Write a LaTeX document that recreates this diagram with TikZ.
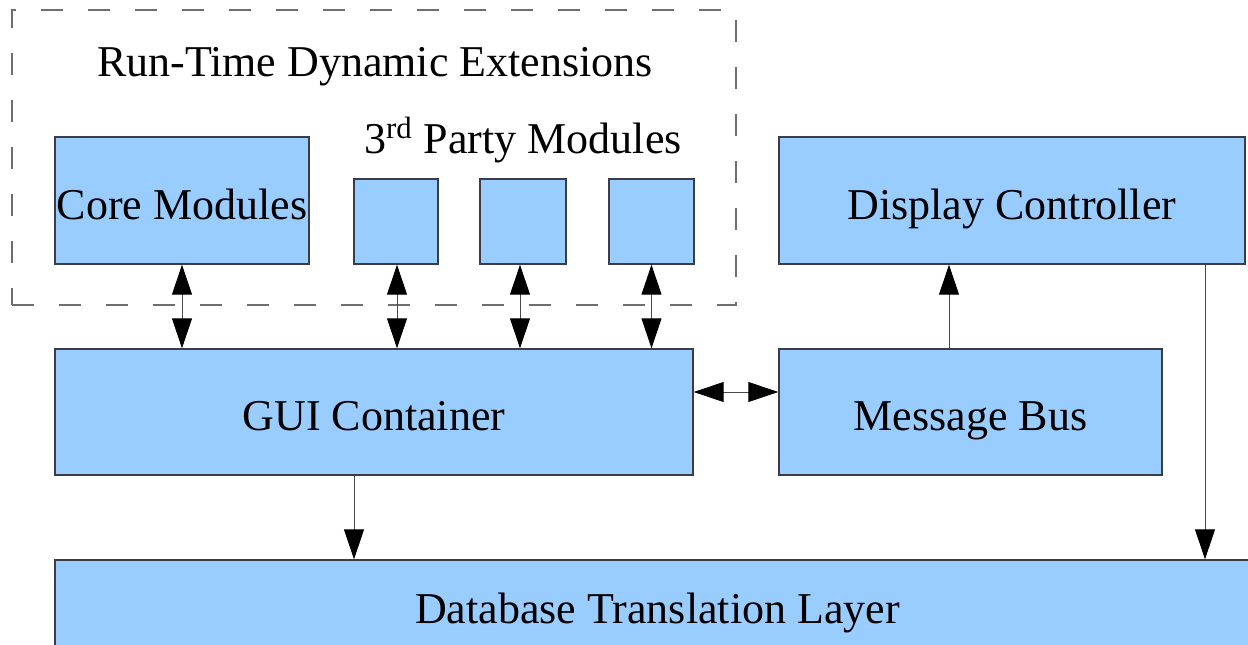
\documentclass[tikz,border=0pt]{standalone}
\usepackage{fontspec}
\setmainfont{Liberation Serif}
\usetikzlibrary{arrows.meta,calc}
\definecolor{boxfill}{HTML}{99CCFF}
\definecolor{boxline}{HTML}{3C3C46}
\definecolor{wire}{HTML}{4A4A4A}
\definecolor{dashline}{HTML}{6E6E6E}
\newcommand{\boxfont}{\fontsize{22}{26}\selectfont}
\tikzset{
 every node/.append style={font=\boxfont,text=black,align=center,text height=19pt,text depth=.5pt},
 block/.style={draw=boxline,fill=boxfill,line width=.7pt,inner sep=0pt},
 region/.style={draw=dashline,line width=.6pt,dash pattern=on 11pt off 12.5pt,inner sep=0pt},
 link/.style={-{Triangle[length=15pt,width=10pt,color=black]},draw=wire,line width=.5pt},
 both/.style={{Triangle[length=15pt,width=10pt,color=black]}-{Triangle[length=15pt,width=10pt,color=black]},draw=wire,line width=.5pt},
}

\begin{document}
\begin{tikzpicture}[x=0.5pt,y=-0.5pt]

\useasboundingbox (0,0) rectangle (1248,644);
\node[region,minimum width=362pt,minimum height=147.5pt] (ext) at (374,157.5) {};
\node (exttitle) at (375,58) {Run-Time Dynamic Extensions};
\node (partytitle) at (523,135) {3\textsuperscript{rd} Party Modules};
\node[block,minimum width=127pt,minimum height=63.5pt] (core) at (182,200.5) {Core Modules};
\node[block,minimum width=42pt,minimum height=42.5pt] (partya) at (396,221.5) {};
\node[block,minimum width=43pt,minimum height=42.5pt] (partyb) at (523,221.5) {};
\node[block,minimum width=42.5pt,minimum height=42.5pt] (partyc) at (651.5,221.5) {};
\node[block,minimum width=233pt,minimum height=63.5pt] (display) at (1012,200.5) {Display Controller};
\node[block,minimum width=319pt,minimum height=63pt] (gui) at (374,412) {GUI Container};
\node[block,minimum width=191.5pt,minimum height=63pt] (bus) at (970.5,412) {Message Bus};
\node[block,minimum width=602.5pt,minimum height=45pt] (db) at (657.5,605) {Database Translation Layer};
\draw[both] (core.south) -- (core.south |- gui.north);
\draw[both] ([xshift=0.5pt]partya.south) -- ([xshift=0.5pt]partya.south |- gui.north);
\draw[both] ([xshift=-1.5pt]partyb.south) -- ([xshift=-1.5pt]partyb.south |- gui.north);
\draw[both] (partyc.south) -- (partyc.south |- gui.north);
\draw[both] ([yshift=10pt]gui.east) -- ([yshift=10pt]bus.west);
\draw[link] ([xshift=-10.75pt]bus.north) -- ([xshift=-10.75pt]bus.north |- display.south);
\draw[link] ([xshift=-10pt]gui.south) -- ([xshift=-10pt]gui.south |- db.north);
\draw[link] ([xshift=96.5pt]display.south) -- ([xshift=96.5pt]display.south |- db.north);

\end{tikzpicture}
\end{document}
